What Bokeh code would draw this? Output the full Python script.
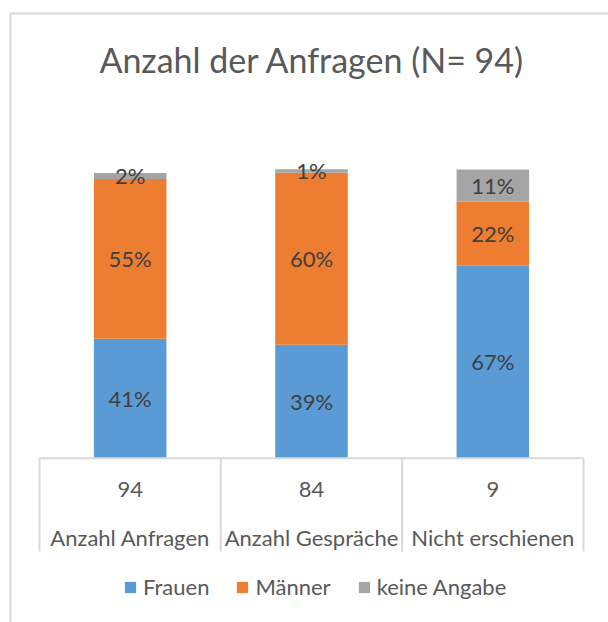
from bokeh.plotting import figure
from bokeh.models import ColumnDataSource, Range1d, LabelSet, Legend, LegendItem
from bokeh.core.properties import value
from bokeh.embed import file_html
from bokeh.resources import INLINE

# ---- data ----
title = "Anzahl der Anfragen (N= 94)"
categories = ["Anzahl Anfragen", "Anzahl Gespräche", "Nicht erschienen"]
counts = ["94", "84", "9"]
series = ["Frauen", "Männer", "keine Angabe"]
frauen = [41.4, 39.3, 66.7]
maenner = [55.3, 59.6, 22.2]
keine = [2.1, 1.2, 11.1]
colors = ["#5B9BD5", "#ED7D31", "#A5A5A5"]

FONT = "Lato"
W, H = 608, 622
# pixel geometry of the plot area (layout only)
PX_LEFT, PX_RIGHT = 39.0, 583.0
PX_TOP, PX_ZERO = 169.0, 457.7
n = len(categories)
ux = (PX_RIGHT - PX_LEFT) / n
uy = (PX_ZERO - PX_TOP) / 100.0


def px2x(sx):
    return -0.5 + (sx - PX_LEFT) / ux


def px2y(sy):
    return (PX_ZERO - sy) / uy


x = list(range(n))
src = ColumnDataSource(dict(x=x, Frauen=frauen, Männer=maenner, **{"keine Angabe": keine}))

p = figure(width=W, height=H, output_backend="svg", toolbar_location=None,
           x_axis_type=None, y_axis_type=None,
           x_range=Range1d(px2x(0), px2x(W)), y_range=Range1d(px2y(H), px2y(0)),
           min_border=0)
p.outline_line_color = None
p.background_fill_color = "white"
p.border_fill_color = "white"

renderers = p.vbar_stack(series, x="x", width=0.4, color=colors, line_color=None, source=src)

# data labels at segment centres
lx, ly, lt = [], [], []
for i in x:
    base = 0
    for vals in (frauen, maenner, keine):
        v = vals[i]
        lx.append(i)
        ly.append(base + v / 2)
        lt.append(f"{round(v)}%")
        base += v
lab_src = ColumnDataSource(dict(x=lx, y=ly, t=lt))
p.add_layout(LabelSet(x="x", y="y", text="t", source=lab_src, text_align="center",
                      text_baseline="middle", text_font=value(FONT),
                      text_font_size=value("22px"), text_color=value("#404040")))

# category table below the bars
grid_col = "#D9D9D9"
p.segment(x0=-0.5, y0=0, x1=n - 0.5, y1=0, line_color=grid_col, line_width=2)
bounds = [i - 0.5 for i in range(n + 1)]
p.segment(x0=bounds, y0=[0] * len(bounds), x1=bounds, y1=[px2y(551)] * len(bounds),
          line_color=grid_col, line_width=2)
p.text(x=x, y=[px2y(489)] * n, text=counts, text_align="center", text_baseline="middle",
       text_font=value(FONT), text_font_size="22px", text_color="#595959")
p.text(x=x, y=[px2y(537)] * n, text=categories, text_align="center", text_baseline="middle",
       text_font=value(FONT), text_font_size="22px", text_color="#595959")

# title
p.text(x=[px2x(311.7)], y=[px2y(59)], text=[title], text_align="center", text_baseline="middle",
       text_font=value(FONT), text_font_size="34px", text_color="#595959")

# chart border (left and top edges visible)
p.line(x=[px2x(10), px2x(10), px2x(W + 10)], y=[px2y(H + 10), px2y(13), px2y(13)],
       line_color=grid_col, line_width=2)

# legend
legend = Legend(items=[LegendItem(label=s, renderers=[r]) for s, r in zip(series, renderers)],
                orientation="horizontal", location=(123, H - 600))
legend.glyph_width = 14
legend.glyph_height = 14
legend.label_height = 14
legend.label_standoff = 6
legend.spacing = 26
legend.padding = 0
legend.margin = 0
legend.border_line_color = None
legend.background_fill_alpha = 0
legend.label_text_font = FONT
legend.label_text_font_size = "22px"
legend.label_text_color = "#595959"
p.add_layout(legend, "center")

open("out.html", "w").write(file_html(p, INLINE))
